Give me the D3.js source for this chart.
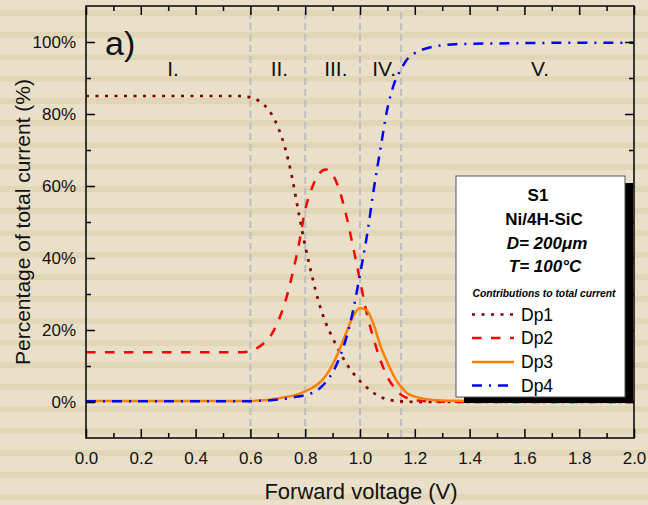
<!DOCTYPE html>
<html>
<head>
<meta charset="utf-8">
<script src="https://cdn.jsdelivr.net/npm/d3@7"></script>
<style>
  body { margin: 0; background: #eae0c9; }
  svg { display: block; }
</style>
</head>
<body>
<div class="canvas"></div>
<script>
// sizes
const width = 648
const height = 505
const font = "'Liberation Sans', Arial, sans-serif"
const textColor = '#111'

// data (voltage in V, contributions in %)
const voltage = [0, 0.2, 0.4, 0.5, 0.55,
  0.6, 0.625, 0.65, 0.675, 0.7, 0.725, 0.75, 0.775, 0.8, 0.825, 0.85, 0.875, 0.9, 0.925, 0.95, 0.975,
  1.0, 1.025, 1.05, 1.075, 1.1, 1.125, 1.15, 1.175, 1.2,
  1.25, 1.3, 1.35, 1.4, 1.5, 1.6, 1.8, 2.0]

const dp1 = [85, 85, 85, 85, 85,
  84.6, 83.9, 82.5, 80.2, 76.5, 71, 63.2, 53, 43.3, 35, 27.6, 22, 17.8, 14, 10.7, 8,
  5.8, 4, 2.5, 1.4, 0.7, 0.35, 0.15, 0.08, 0.05,
  0.02, 0, 0, 0, 0, 0, 0, 0]

const dp2 = [13.8, 13.8, 13.8, 13.8, 13.8,
  14.1, 15, 16.4, 18.5, 22.2, 27.3, 34.5, 43, 53.3, 59.5, 63.3, 64.6, 63.2, 58.8, 51.8, 43,
  33.8, 24.5, 17.5, 11.5, 7, 4, 2, 1, 0.5,
  0.2, 0.1, 0.05, 0, 0, 0, 0, 0]

const dp3 = [0.3, 0.3, 0.3, 0.3, 0.3,
  0.3, 0.4, 0.5, 0.7, 1, 1.3, 1.7, 2.2, 3, 3.9, 5.2, 7.3, 10.4, 14.5, 19.3, 23.8,
  26.1, 25.4, 21.5, 15.5, 11, 7, 4.2, 2.3, 1.5,
  0.7, 0.45, 0.35, 0.3, 0.3, 0.3, 0.3, 0.3]

const dp4 = [0.2, 0.2, 0.2, 0.2, 0.2,
  0.2, 0.3, 0.4, 0.5, 0.7, 0.9, 1.2, 1.5, 1.9, 2.5, 3.6, 5.5, 8.2, 12.3, 17.8, 25.5,
  35.5, 46, 59, 70.5, 81.5, 88.5, 92.5, 95.5, 96.9,
  98.4, 99.1, 99.4, 99.5, 99.6, 99.7, 99.8, 99.8]

const seriesNames = ['Dp1', 'Dp2', 'Dp3', 'Dp4']
const seriesValues = [dp1, dp2, dp3, dp4]

// ticks
const xTicks = [0, 0.2, 0.4, 0.6, 0.8, 1.0, 1.2, 1.4, 1.6, 1.8, 2.0]
const xMinor = [0.1, 0.3, 0.5, 0.7, 0.9, 1.1, 1.3, 1.5, 1.7, 1.9]
const yTicks = [0, 20, 40, 60, 80, 100]
const yMinor = [10, 30, 50, 70, 90]

// regions
const regionBounds = [0.6, 0.8, 1.0, 1.15]
const regionLabels = ['I.', 'II.', 'III.', 'IV.', 'V.']
const regionLabelV = [0.318, 0.706, 0.912, 1.088, 1.657]

// legend text
const infoLines = ['S1', 'Ni/4H-SiC', 'D= 200μm', 'T= 100°C']

// line styles per series
const styles = [
  {color: '#800000', dash: '3,6.5', width: 2.7},
  {color: '#ff0000', dash: '9.5,9.5', width: 2.5},
  {color: '#ff8000', dash: null, width: 2.5},
  {color: '#0000ff', dash: '10,7,2,7', width: 2.5}
]

const svg = d3.select('.canvas')
  .append('svg')
  .attr('width', width)
  .attr('height', height)
  .attr('viewBox', `0 0 ${width} ${height}`)

// striped background
svg.append('rect')
  .attr('width', width)
  .attr('height', height)
  .attr('fill', '#eae0c9')

svg.selectAll('.stripe')
  .data(d3.range(10, height, 22))
  .enter()
  .append('rect')
  .attr('class', 'stripe')
  .attr('x', 0)
  .attr('y', d => d)
  .attr('width', width)
  .attr('height', 6)
  .attr('fill', '#e2d6b9')

const x = d3.scaleLinear().domain([0, 2]).range([86, 634])
const y = d3.scaleLinear().domain([-10, 110]).range([438, 6])

const graph = svg.append('g')

// region separators
graph.selectAll('.sep')
  .data(regionBounds)
  .enter()
  .append('line')
  .attr('class', 'sep')
  .attr('x1', d => x(d))
  .attr('x2', d => x(d))
  .attr('y1', y(108.3))
  .attr('y2', y(-10))
  .attr('stroke', '#bdbdbd')
  .attr('stroke-width', 2)
  .attr('stroke-dasharray', '7,4')

// curves
const line = d3.line()
  .x((d, i) => x(voltage[i]))
  .y(d => y(d))
  .curve(d3.curveMonotoneX)

graph.selectAll('.curve')
  .data(seriesValues)
  .enter()
  .append('path')
  .attr('class', 'curve')
  .attr('d', d => line(d))
  .attr('fill', 'none')
  .attr('stroke', (d, i) => styles[i].color)
  .attr('stroke-width', (d, i) => styles[i].width)
  .attr('stroke-dasharray', (d, i) => styles[i].dash)

// axes, ticks pointing inward
const styleAxis = g => {
  g.select('.domain').remove()
  g.selectAll('.tick line').attr('stroke', '#000').attr('stroke-width', 1.5)
  g.selectAll('text')
    .attr('font-family', font)
    .attr('font-size', 17)
    .attr('fill', textColor)
}

graph.append('g')
  .attr('transform', `translate(0, ${y(-10)})`)
  .call(d3.axisBottom(x).tickValues(xTicks).tickSize(-9).tickPadding(14).tickFormat(d3.format('.1f')))
  .call(styleAxis)
graph.append('g')
  .attr('transform', `translate(0, ${y(-10)})`)
  .call(d3.axisBottom(x).tickValues(xMinor).tickSize(-5).tickFormat(''))
  .call(styleAxis)
graph.append('g')
  .attr('transform', `translate(0, ${y(110)})`)
  .call(d3.axisTop(x).tickValues(xTicks).tickSize(-9).tickFormat(''))
  .call(styleAxis)
graph.append('g')
  .attr('transform', `translate(0, ${y(110)})`)
  .call(d3.axisTop(x).tickValues(xMinor).tickSize(-5).tickFormat(''))
  .call(styleAxis)

graph.append('g')
  .attr('transform', `translate(${x(0)}, 0)`)
  .call(d3.axisLeft(y).tickValues(yTicks).tickSize(-9).tickPadding(10).tickFormat(d => d + '%'))
  .call(styleAxis)
graph.append('g')
  .attr('transform', `translate(${x(0)}, 0)`)
  .call(d3.axisLeft(y).tickValues(yMinor).tickSize(-5).tickFormat(''))
  .call(styleAxis)
graph.append('g')
  .attr('transform', `translate(${x(2)}, 0)`)
  .call(d3.axisRight(y).tickValues(yTicks).tickSize(-9).tickFormat(''))
  .call(styleAxis)
graph.append('g')
  .attr('transform', `translate(${x(2)}, 0)`)
  .call(d3.axisRight(y).tickValues(yMinor).tickSize(-5).tickFormat(''))
  .call(styleAxis)

// frame
graph.append('rect')
  .attr('x', x(0))
  .attr('y', y(110))
  .attr('width', x(2) - x(0))
  .attr('height', y(-10) - y(110))
  .attr('fill', 'none')
  .attr('stroke', '#000')
  .attr('stroke-width', 1.5)

// axis titles
svg.append('text')
  .attr('x', 361)
  .attr('y', 499)
  .attr('text-anchor', 'middle')
  .attr('font-family', font)
  .attr('font-size', 22)
  .attr('fill', textColor)
  .text('Forward voltage (V)')

svg.append('text')
  .attr('transform', 'translate(30, 222) rotate(-90)')
  .attr('text-anchor', 'middle')
  .attr('font-family', font)
  .attr('font-size', 21)
  .attr('fill', textColor)
  .text('Percentage of total current (%)')

// panel label and region labels
svg.append('text')
  .attr('x', 105)
  .attr('y', 55)
  .attr('font-family', font)
  .attr('font-size', 34)
  .attr('fill', textColor)
  .text('a)')

svg.selectAll('.region')
  .data(regionLabels)
  .enter()
  .append('text')
  .attr('class', 'region')
  .attr('x', (d, i) => x(regionLabelV[i]))
  .attr('y', 76)
  .attr('text-anchor', 'middle')
  .attr('font-family', font)
  .attr('font-size', 21)
  .attr('fill', textColor)
  .text(d => d)

// legend box with shadow
const legend = svg.append('g')

legend.append('rect')
  .attr('x', 464)
  .attr('y', 183)
  .attr('width', 169)
  .attr('height', 220)
  .attr('fill', '#000')

legend.append('rect')
  .attr('x', 456)
  .attr('y', 176)
  .attr('width', 169)
  .attr('height', 221)
  .attr('fill', '#fff')
  .attr('stroke', '#555')
  .attr('stroke-width', 1)

const infoX = [538, 544, 547, 545]
const infoY = [201, 225, 249, 272]
legend.selectAll('.info')
  .data(infoLines)
  .enter()
  .append('text')
  .attr('class', 'info')
  .attr('x', (d, i) => infoX[i])
  .attr('y', (d, i) => infoY[i])
  .attr('text-anchor', 'middle')
  .attr('font-family', font)
  .attr('font-size', 17)
  .attr('font-weight', 'bold')
  .attr('font-style', (d, i) => i > 1 ? 'italic' : 'normal')
  .attr('fill', '#000')
  .text(d => d)

legend.append('text')
  .attr('x', 544)
  .attr('y', 297)
  .attr('text-anchor', 'middle')
  .attr('font-family', font)
  .attr('font-size', 10.3)
  .attr('font-weight', 'bold')
  .attr('font-style', 'italic')
  .attr('fill', '#000')
  .text('Contributions to total current')

const entryY = [314.5, 338, 362, 385.5]
const entries = legend.selectAll('.entry')
  .data(seriesNames)
  .enter()
  .append('g')
  .attr('class', 'entry')
  .attr('transform', (d, i) => `translate(0, ${entryY[i]})`)

entries.append('line')
  .attr('x1', 472)
  .attr('x2', 514)
  .attr('y1', 0)
  .attr('y2', 0)
  .attr('stroke', (d, i) => styles[i].color)
  .attr('stroke-width', (d, i) => styles[i].width)
  .attr('stroke-dasharray', (d, i) => styles[i].dash)

entries.append('text')
  .attr('x', 521)
  .attr('y', 6)
  .attr('font-family', font)
  .attr('font-size', 17.5)
  .attr('fill', '#000')
  .text(d => d)
</script>
</body>
</html>
